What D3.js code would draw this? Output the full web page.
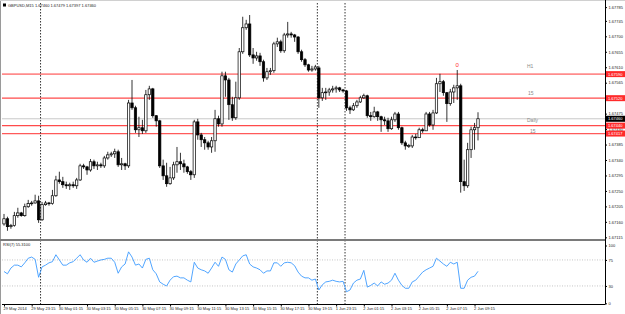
<!DOCTYPE html>
<html>
<head>
<meta charset="utf-8">
<script src="https://cdn.jsdelivr.net/npm/d3@7"></script>
<style>
    html, body { margin: 0; padding: 0; background: #fff; }
    svg { display: block; font-family: "Liberation Sans", Arial, sans-serif; }
</style>
</head>
<body>
<div id="chart"></div>
<script>
// GBPUSD M15 bars
const opens = [1.67154,1.67169,1.67146,1.67149,1.67178,1.67186,1.67178,1.67204,1.67213,1.67215,
    1.67221,1.67166,1.67210,1.67215,1.67213,1.67236,1.67282,1.67277,1.67268,1.67265,
    1.67268,1.67265,1.67282,1.67323,1.67320,1.67311,1.67335,1.67323,1.67326,1.67323,
    1.67346,1.67355,1.67358,1.67364,1.67326,1.67329,1.67323,1.67506,1.67492,1.67428,
    1.67434,1.67425,1.67530,1.67547,1.67469,1.67454,1.67323,1.67294,1.67271,1.67288,
    1.67326,1.67335,1.67329,1.67320,1.67306,1.67297,1.67451,1.67413,1.67399,1.67390,
    1.67378,1.67396,1.67460,1.67445,1.67585,1.67573,1.67501,1.67463,1.67521,1.67655,
    1.67725,1.67736,1.67646,1.67637,1.67643,1.67626,1.67579,1.67597,1.67600,1.67678,
    1.67684,1.67658,1.67704,1.67707,1.67704,1.67698,1.67655,1.67632,1.67617,1.67602,
    1.67605,1.67608,1.67521,1.67536,1.67538,1.67544,1.67547,1.67550,1.67544,1.67541,
    1.67492,1.67486,1.67498,1.67509,1.67521,1.67527,1.67469,1.67466,1.67480,1.67466,
    1.67457,1.67454,1.67431,1.67457,1.67474,1.67434,1.67390,1.67381,1.67381,1.67407,
    1.67405,1.67428,1.67425,1.67474,1.67442,1.67477,1.67562,1.67568,1.67536,1.67504,
    1.67538,1.67550,1.67556,1.67277,1.67265,1.67370,1.67428,1.67434];
const highs = [1.67183,1.67175,1.67154,1.67189,1.67201,1.67189,1.67213,1.67224,1.67221,1.67239,
    1.67236,1.67218,1.67221,1.67218,1.67253,1.67294,1.67306,1.67291,1.67277,1.67274,
    1.67277,1.67288,1.67329,1.67329,1.67323,1.67343,1.67341,1.67335,1.67332,1.67352,
    1.67364,1.67364,1.67373,1.67370,1.67346,1.67332,1.67515,1.67573,1.67498,1.67466,
    1.67457,1.67544,1.67556,1.67550,1.67471,1.67457,1.67341,1.67332,1.67320,1.67335,
    1.67378,1.67361,1.67341,1.67323,1.67311,1.67457,1.67460,1.67419,1.67407,1.67396,
    1.67407,1.67486,1.67469,1.67597,1.67597,1.67579,1.67524,1.67568,1.67666,1.67757,
    1.67748,1.67762,1.67666,1.67655,1.67652,1.67632,1.67608,1.67608,1.67684,1.67696,
    1.67690,1.67710,1.67742,1.67713,1.67707,1.67701,1.67661,1.67637,1.67620,1.67614,
    1.67617,1.67614,1.67550,1.67550,1.67550,1.67556,1.67556,1.67553,1.67547,1.67544,
    1.67498,1.67506,1.67515,1.67527,1.67533,1.67530,1.67480,1.67495,1.67483,1.67469,
    1.67466,1.67463,1.67466,1.67480,1.67480,1.67437,1.67396,1.67387,1.67413,1.67416,
    1.67434,1.67434,1.67480,1.67480,1.67486,1.67579,1.67591,1.67573,1.67538,1.67547,
    1.67559,1.67602,1.67562,1.67341,1.67390,1.67437,1.67448,1.67479];
const lows = [1.67149,1.67134,1.67140,1.67146,1.67172,1.67175,1.67175,1.67201,1.67207,1.67213,
    1.67157,1.67163,1.67207,1.67207,1.67210,1.67233,1.67271,1.67259,1.67256,1.67253,
    1.67259,1.67256,1.67279,1.67314,1.67297,1.67306,1.67314,1.67311,1.67317,1.67317,
    1.67341,1.67349,1.67346,1.67320,1.67311,1.67311,1.67317,1.67486,1.67419,1.67407,
    1.67416,1.67419,1.67515,1.67463,1.67437,1.67317,1.67282,1.67262,1.67268,1.67282,
    1.67303,1.67311,1.67303,1.67300,1.67282,1.67288,1.67399,1.67378,1.67370,1.67370,
    1.67361,1.67364,1.67437,1.67437,1.67524,1.67457,1.67454,1.67457,1.67515,1.67649,
    1.67719,1.67640,1.67620,1.67629,1.67614,1.67568,1.67573,1.67588,1.67594,1.67669,
    1.67652,1.67652,1.67696,1.67696,1.67684,1.67649,1.67626,1.67611,1.67597,1.67597,
    1.67600,1.67492,1.67512,1.67515,1.67527,1.67536,1.67536,1.67538,1.67536,1.67483,
    1.67474,1.67483,1.67492,1.67506,1.67518,1.67463,1.67454,1.67463,1.67454,1.67422,
    1.67442,1.67422,1.67428,1.67451,1.67428,1.67384,1.67370,1.67375,1.67375,1.67399,
    1.67405,1.67419,1.67425,1.67437,1.67428,1.67474,1.67538,1.67527,1.67451,1.67498,
    1.67506,1.67515,1.67245,1.67250,1.67259,1.67346,1.67370,1.67397];
const closes = [1.67169,1.67146,1.67149,1.67178,1.67186,1.67178,1.67204,1.67213,1.67215,1.67221,
    1.67166,1.67210,1.67215,1.67213,1.67236,1.67282,1.67277,1.67268,1.67265,1.67268,
    1.67265,1.67282,1.67323,1.67320,1.67311,1.67335,1.67323,1.67326,1.67323,1.67346,
    1.67355,1.67358,1.67364,1.67326,1.67329,1.67323,1.67506,1.67492,1.67428,1.67434,
    1.67425,1.67530,1.67547,1.67469,1.67454,1.67323,1.67294,1.67271,1.67288,1.67326,
    1.67335,1.67329,1.67320,1.67306,1.67297,1.67451,1.67413,1.67399,1.67390,1.67378,
    1.67396,1.67460,1.67445,1.67585,1.67573,1.67501,1.67463,1.67521,1.67655,1.67725,
    1.67736,1.67646,1.67637,1.67643,1.67626,1.67579,1.67597,1.67600,1.67678,1.67684,
    1.67658,1.67704,1.67707,1.67704,1.67698,1.67655,1.67632,1.67617,1.67602,1.67605,
    1.67611,1.67521,1.67536,1.67538,1.67544,1.67547,1.67550,1.67544,1.67541,1.67492,
    1.67486,1.67498,1.67509,1.67521,1.67527,1.67469,1.67466,1.67480,1.67466,1.67457,
    1.67454,1.67431,1.67457,1.67474,1.67434,1.67390,1.67381,1.67382,1.67407,1.67405,
    1.67428,1.67425,1.67474,1.67442,1.67477,1.67562,1.67568,1.67536,1.67504,1.67538,
    1.67550,1.67556,1.67277,1.67265,1.67370,1.67428,1.67434,1.67460];

// RSI(7) per bar
const rsi = [55,51,61,66,66,63,70,78,80,76,45,63,66,70,72,84,75,66,66,70,
    72,78,84,75,71,78,71,73,75,76,78,78,71,52,63,68,89,80,66,68,
    61,76,78,58,51,37,33,30,40,46,47,44,44,40,37,71,61,58,56,52,
    61,71,64,80,76,58,54,68,75,82,84,68,63,61,58,52,56,56,70,70,
    64,70,71,70,65,54,47,44,44,40,42,23,32,37,38,40,38,37,38,20,
    23,35,40,42,57,28,31,35,30,37,33,35,40,52,40,31,26,26,37,40,
    47,54,58,61,64,78,73,68,64,71,68,71,26,26,40,45,47,55.31];

// axis labels
const timeIdx = [0,8,16,24,32,40,48,56,64,72,80,88,96,104,112,120,128,136];
const timeText = ['29 May 2014','29 May 23:15','30 May 01:15','30 May 03:15','30 May 05:15',
    '30 May 07:15','30 May 09:15','30 May 11:15','30 May 13:15','30 May 15:15','30 May 17:15',
    '30 May 19:15','1 Jun 23:15','2 Jun 01:15','2 Jun 03:15','2 Jun 05:15','2 Jun 07:15','2 Jun 09:15'];
const daySepIdx = [11, 91, 99];
const priceTicks = [1.67785,1.67745,1.67700,1.67655,1.67610,1.67565,1.67475,1.67430,
    1.67385,1.67340,1.67295,1.67250,1.67205,1.67160,1.67115];
const rsiTicks = [100, 75, 30, 0];
const rsiLevels = [75, 30];

// horizontal lines
const levelValues = [1.67590, 1.67520, 1.67440, 1.67417];
const levelNames = ['H1', '15', 'Daily', '15'];
const bidPrice = 1.67460;

const W = 625, H = 314;
const left = 2, right = 605;
const mainTop = 3, mainBottom = 238;
const rsiTop = 241, rsiBottom = 304;

let svg = d3.select('#chart').append('svg')
    .attr('width', W)
    .attr('height', H);

svg.append('rect').attr('width', W).attr('height', H).style('fill', '#fff');

let x = d3.scaleLinear().domain([0, closes.length - 1]).range([4, 478]);
let y = d3.scaleLinear().domain([1.67113, 1.67797]).range([mainBottom, mainTop]);
let ry = d3.scaleLinear().domain([0, 100]).range([303.3, 245.5]);

let fmt = d3.format('.5f');

// frame
svg.append('line').attr('x1', 0.5).attr('x2', 0.5).attr('y1', 0).attr('y2', H)
    .style('stroke', '#9a9a9a').style('stroke-width', 1);
svg.append('line').attr('x1', 0).attr('x2', W).attr('y1', 0.5).attr('y2', 0.5)
    .style('stroke', '#d0d0d0');

// bid line + levels
svg.append('line')
    .attr('x1', left).attr('x2', right)
    .attr('y1', y(bidPrice)).attr('y2', y(bidPrice))
    .style('stroke', '#c8c8c8').style('stroke-width', 1);

let levelColor = ['#ff8c8c', '#ff4a4a', '#ff4a4a', '#ff5a5a'];
svg.selectAll('.level').data(levelValues).enter().append('line')
    .attr('class', 'level')
    .attr('x1', left).attr('x2', right)
    .attr('y1', function(d) { return y(d); })
    .attr('y2', function(d) { return y(d); })
    .style('stroke', function(d, i) { return levelColor[i]; })
    .style('stroke-width', function(d, i) { return i === 0 ? 1.6 : 1.2; });

// text objects sit a little above their line, each at its own offset
let nameLift = [6, 3, 4, 0.5];
let nameX = [527, 528, 527, 530];
svg.selectAll('.level-name').data(levelValues).enter().append('text')
    .attr('class', 'level-name')
    .attr('x', function(d, i) { return nameX[i]; })
    .attr('y', function(d, i) { return y(d) - nameLift[i]; })
    .style('font-size', '5px')
    .style('fill', '#8a8a8a')
    .text(function(d, i) { return levelNames[i]; });

// day separators
svg.selectAll('.day-sep').data(daySepIdx).enter().append('line')
    .attr('class', 'day-sep')
    .attr('x1', function(d) { return x(d) - 1.5; })
    .attr('x2', function(d) { return x(d) - 1.5; })
    .attr('y1', mainTop).attr('y2', rsiBottom)
    .style('stroke', '#000')
    .style('stroke-width', 0.8)
    .style('stroke-dasharray', '1.5,1.5');

// candles
let idx = d3.range(closes.length);
let bars = svg.selectAll('.bar').data(idx).enter().append('g').attr('class', 'bar');

bars.append('line')
    .attr('x1', function(i) { return x(i); })
    .attr('x2', function(i) { return x(i); })
    .attr('y1', function(i) { return y(highs[i]); })
    .attr('y2', function(i) { return y(lows[i]); })
    .style('stroke', '#000')
    .style('stroke-width', 0.8);

bars.append('rect')
    .attr('x', function(i) { return x(i) - 1.2; })
    .attr('width', 2.4)
    .attr('y', function(i) { return y(Math.max(opens[i], closes[i])); })
    .attr('height', function(i) {
        return Math.max(0.8, Math.abs(y(opens[i]) - y(closes[i])));
    })
    .style('fill', function(i) { return closes[i] >= opens[i] ? '#fff' : '#000'; })
    .style('stroke', '#000')
    .style('stroke-width', 0.7);

// red text object above bar 131
svg.append('text')
    .attr('x', x(131))
    .attr('y', y(highs[131]) - 3)
    .attr('text-anchor', 'middle')
    .style('font-size', '6px')
    .style('fill', '#ff3030')
    .text('0');

// panel separator
svg.append('line')
    .attr('x1', 0).attr('x2', right)
    .attr('y1', 240).attr('y2', 240)
    .style('stroke', '#7a7a7a').style('stroke-width', 2);

// RSI levels
svg.selectAll('.rsi-level').data(rsiLevels).enter().append('line')
    .attr('class', 'rsi-level')
    .attr('x1', left).attr('x2', right)
    .attr('y1', function(d) { return ry(d); })
    .attr('y2', function(d) { return ry(d); })
    .style('stroke', '#b8b8b8')
    .style('stroke-width', 0.8)
    .style('stroke-dasharray', '1,1.5');

svg.append('path')
    .datum(rsi)
    .attr('d', d3.line()
        .x(function(d, i) { return x(i); })
        .y(function(d) { return ry(d); }))
    .style('fill', 'none')
    .style('stroke', '#3d9bff')
    .style('stroke-width', 0.9);

svg.append('text')
    .attr('x', 3).attr('y', 246)
    .style('font-size', '4px')
    .style('fill', '#222')
    .text('RSI(7) ' + rsi[rsi.length - 1].toFixed(4));

// title
svg.append('rect').attr('x', 3).attr('y', 3.5).attr('width', 3).attr('height', 3).style('fill', '#000');
svg.append('text')
    .attr('x', 8).attr('y', 7)
    .style('font-size', '4px')
    .style('fill', '#222')
    .text('GBPUSD,M15  1.67460 ' + [fmt(highs[highs.length - 1]),
        fmt(lows[lows.length - 1]), fmt(closes[closes.length - 1])].join(' '));

// price axis
let yAxis = d3.axisRight(y).tickValues(priceTicks).tickSize(2).tickPadding(1.5).tickFormat(fmt);
let ga = svg.append('g')
    .attr('transform', 'translate(' + right + ',0)')
    .call(yAxis);
ga.select('.domain').remove();
ga.selectAll('text').attr('font-size', 4).attr('font-family', 'Liberation Sans, Arial').style('fill', '#222');

// rsi axis
let rAxis = d3.axisRight(ry).tickValues(rsiTicks).tickSize(2).tickPadding(1.5);
let gr = svg.append('g')
    .attr('transform', 'translate(' + right + ',0)')
    .call(rAxis);
gr.select('.domain').remove();
gr.selectAll('text').attr('font-size', 4).attr('font-family', 'Liberation Sans, Arial').style('fill', '#222');

// axis lines
svg.append('line').attr('x1', right + 0.5).attr('x2', right + 0.5).attr('y1', 0).attr('y2', rsiBottom)
    .style('stroke', '#000');
svg.append('line').attr('x1', left).attr('x2', right + 0.5).attr('y1', rsiBottom + 0.5).attr('y2', rsiBottom + 0.5)
    .style('stroke', '#000');

// price tags
let tags = svg.selectAll('.tag').data(levelValues).enter().append('g').attr('class', 'tag');
tags.append('rect')
    .attr('x', right + 1).attr('width', 19)
    .attr('y', function(d) { return y(d) - 3; }).attr('height', 6)
    .style('fill', '#ff2a2a');
tags.append('text')
    .attr('x', right + 3).attr('y', function(d) { return y(d) + 1.5; })
    .style('font-size', '4px').style('fill', '#fff')
    .text(function(d) { return fmt(d); });

let bid = svg.append('g');
bid.append('rect').attr('x', right + 1).attr('width', 19)
    .attr('y', y(bidPrice) - 3).attr('height', 6).style('fill', '#000');
bid.append('text').attr('x', right + 3).attr('y', y(bidPrice) + 1.5)
    .style('font-size', '4px').style('fill', '#fff').text(fmt(bidPrice));

// time axis
let xAxis = d3.axisBottom(x).tickValues(timeIdx).tickSize(2).tickPadding(1)
    .tickFormat(function(d, i) { return timeText[i]; });
let gx = svg.append('g')
    .attr('transform', 'translate(0,' + (rsiBottom + 0.5) + ')')
    .call(xAxis);
gx.select('.domain').remove();
gx.selectAll('text')
    .attr('font-size', 4)
    .attr('font-family', 'Liberation Sans, Arial')
    .attr('text-anchor', 'start')
    .attr('x', -1)
    .style('fill', '#222');
</script>
</body>
</html>
